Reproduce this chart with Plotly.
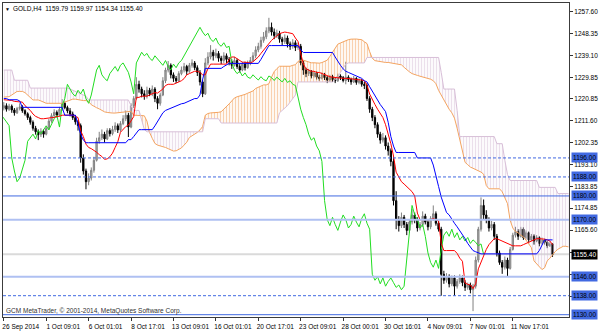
import plotly.graph_objects as go

# ---------------- data (GOLD H4, bar index 0..207) ----------------
opens = [
1217.0,1218.0,1216.5,1217.8,1216.2,1215.0,1216.8,1217.5,1215.9,1214.6,
1213.0,1211.0,1208.5,1207.0,1205.8,1207.2,1206.0,1208.4,1211.5,1213.8,
1215.2,1214.0,1216.5,1219.0,1217.2,1215.8,1214.5,1213.0,1211.2,1209.6,
1196.0,1190.5,1186.0,1187.5,1190.8,1195.0,1203.0,1204.5,1206.0,1204.0,
1207.5,1206.2,1208.0,1209.5,1207.8,1210.5,1212.5,1214.0,1209.0,1218.0,
1221.0,1227.0,1225.0,1223.0,1222.0,1224.5,1223.0,1225.0,1221.0,1219.0,
1222.5,1228.5,1233.0,1235.0,1231.0,1229.5,1228.5,1231.5,1233.0,1234.5,
1232.5,1235.0,1236.0,1234.0,1232.0,1228.0,1223.0,1236.0,1238.5,1240.5,
1239.0,1240.0,1238.0,1237.0,1239.0,1237.5,1236.5,1235.0,1237.0,1234.5,
1233.0,1235.5,1234.0,1236.0,1237.0,1239.0,1241.5,1243.0,1245.5,1247.0,
1249.5,1251.0,1249.0,1247.5,1248.5,1246.0,1245.0,1246.5,1244.0,1243.0,
1244.5,1242.5,1243.0,1236.0,1233.0,1231.5,1232.5,1230.5,1231.8,1230.0,
1229.5,1231.0,1229.8,1228.8,1230.2,1229.0,1228.5,1230.5,1229.8,1228.6,
1230.0,1229.0,1228.0,1229.5,1227.8,1228.5,1227.0,1226.5,1221.0,1216.5,
1213.0,1210.0,1206.0,1203.5,1204.5,1201.0,1199.0,1194.5,1178.0,1170.0,
1167.5,1171.0,1168.0,1165.5,1169.0,1172.0,1170.0,1166.5,1168.0,1171.5,
1169.0,1167.0,1170.5,1172.5,1168.5,1166.0,1147.0,1144.5,1146.0,1143.0,
1145.5,1142.0,1144.0,1145.5,1143.5,1141.5,1142.5,1140.5,1142.0,1153.0,
1166.0,1176.0,1172.0,1170.0,1166.5,1168.0,1163.0,1156.0,1152.0,1150.0,
1153.0,1149.5,1157.5,1163.5,1165.0,1163.0,1166.0,1162.5,1164.5,1161.5,
1163.0,1161.0,1162.5,1160.0,1161.5,1160.5,1159.0,1159.79]

highs = [
1219.5,1219.0,1218.8,1218.5,1217.0,1217.5,1219.0,1218.2,1216.5,1215.2,
1213.8,1211.8,1209.5,1208.0,1208.5,1208.0,1209.5,1212.5,1214.8,1216.5,
1216.0,1217.5,1220.8,1219.8,1218.0,1217.0,1215.5,1214.0,1212.0,1210.5,
1197.5,1191.5,1189.5,1192.0,1196.5,1204.5,1207.0,1208.0,1207.0,1208.5,
1208.5,1209.5,1211.0,1210.5,1211.5,1214.0,1216.0,1215.0,1219.0,1222.0,
1230.0,1228.5,1226.0,1224.5,1226.0,1225.5,1226.5,1225.8,1222.0,1223.5,
1230.0,1234.0,1236.8,1235.8,1232.0,1230.5,1232.5,1234.5,1236.0,1235.2,
1236.0,1237.5,1236.8,1235.0,1233.0,1229.0,1238.0,1240.5,1243.5,1241.5,
1242.0,1241.0,1239.0,1240.5,1240.0,1238.5,1237.5,1238.5,1237.8,1235.5,
1236.5,1236.5,1237.0,1238.5,1240.5,1243.0,1244.5,1247.0,1249.0,1251.0,
1255.0,1253.0,1250.5,1250.0,1249.5,1247.0,1248.0,1247.5,1245.0,1246.0,
1245.5,1244.5,1244.0,1237.0,1234.0,1233.5,1233.0,1232.5,1232.5,1231.0,
1232.0,1231.8,1230.5,1231.0,1231.0,1230.0,1231.5,1231.2,1230.5,1236.5,
1230.8,1229.8,1230.5,1230.0,1229.5,1229.2,1228.0,1227.5,1222.0,1217.5,
1214.0,1211.0,1207.0,1206.5,1205.5,1202.5,1200.0,1196.5,1182.0,1171.5,
1173.0,1172.0,1169.0,1170.0,1174.5,1173.0,1171.0,1169.0,1173.5,1172.5,
1170.0,1171.5,1176.0,1173.5,1169.5,1167.0,1148.5,1147.5,1147.0,1146.5,
1146.5,1145.0,1147.0,1146.5,1144.5,1143.5,1143.5,1143.0,1154.5,1167.0,
1179.4,1178.5,1174.0,1171.0,1169.5,1169.0,1164.0,1157.0,1153.0,1154.5,
1154.0,1158.5,1164.5,1167.0,1166.0,1167.0,1166.8,1165.5,1165.0,1164.0,
1163.8,1163.5,1163.0,1162.5,1162.0,1161.0,1160.5,1159.97]

lows = [
1216.0,1215.5,1215.8,1215.0,1213.8,1214.5,1216.0,1215.0,1213.8,1212.0,
1210.0,1207.5,1205.8,1203.5,1204.8,1204.5,1205.5,1207.8,1210.8,1213.0,
1213.0,1213.5,1215.8,1216.5,1214.8,1213.5,1212.0,1210.0,1207.5,1194.0,
1189.0,1182.8,1184.5,1186.5,1189.8,1194.5,1202.0,1203.5,1202.5,1203.5,
1205.0,1205.5,1207.0,1206.5,1207.0,1209.8,1211.5,1204.8,1208.5,1217.0,
1220.5,1223.5,1221.5,1220.5,1221.0,1222.0,1222.0,1219.5,1216.5,1218.0,
1222.0,1227.5,1232.0,1229.5,1228.0,1227.5,1228.0,1230.8,1232.0,1231.0,
1231.8,1234.0,1233.0,1230.5,1226.5,1221.6,1222.5,1235.0,1237.5,1237.0,
1238.0,1236.5,1235.5,1236.0,1236.0,1235.0,1233.5,1234.5,1233.5,1232.0,
1232.5,1232.8,1233.5,1235.0,1236.5,1238.0,1240.5,1242.0,1244.5,1246.0,
1248.5,1247.5,1246.0,1246.5,1244.5,1243.5,1244.0,1242.5,1241.5,1242.0,
1241.0,1241.5,1235.0,1231.0,1230.0,1230.5,1229.5,1229.8,1229.0,1228.5,
1229.0,1228.8,1227.5,1228.0,1228.0,1227.5,1228.0,1228.8,1227.8,1227.0,
1228.0,1226.8,1227.5,1226.8,1227.0,1226.0,1225.0,1220.0,1215.0,1211.5,
1208.5,1204.5,1202.0,1202.5,1199.5,1197.0,1192.5,1176.0,1166.0,1165.0,
1166.5,1166.5,1163.5,1164.5,1168.0,1168.5,1165.0,1165.5,1167.0,1168.0,
1165.5,1166.0,1169.5,1167.5,1165.0,1138.0,1143.0,1143.5,1141.5,1142.0,
1138.0,1141.0,1143.0,1142.0,1140.0,1140.5,1139.0,1131.5,1141.0,1152.0,
1165.0,1170.0,1168.5,1165.0,1165.5,1161.5,1154.5,1151.0,1147.2,1149.0,
1146.0,1149.0,1157.0,1162.5,1161.5,1162.5,1161.5,1161.8,1160.5,1161.0,
1159.5,1160.5,1158.8,1159.5,1159.5,1158.0,1158.5,1154.34]

closes = [
1218.0,1216.5,1217.8,1216.2,1215.0,1216.8,1217.5,1215.9,1214.6,1213.0,
1211.0,1208.5,1207.0,1205.8,1207.2,1206.0,1208.4,1211.5,1213.8,1215.2,
1214.0,1216.5,1219.0,1217.2,1215.8,1214.5,1213.0,1211.2,1209.6,1196.0,
1190.5,1186.0,1187.5,1190.8,1195.0,1203.0,1204.5,1206.0,1204.0,1207.5,
1206.2,1208.0,1209.5,1207.8,1210.5,1212.5,1214.0,1209.0,1218.0,1221.0,
1227.0,1225.0,1223.0,1222.0,1224.5,1223.0,1225.0,1221.0,1219.0,1222.5,
1228.5,1233.0,1235.0,1231.0,1229.5,1228.5,1231.5,1233.0,1234.5,1232.5,
1235.0,1236.0,1234.0,1232.0,1228.0,1223.0,1236.0,1238.5,1240.5,1239.0,
1240.0,1238.0,1237.0,1239.0,1237.5,1236.5,1235.0,1237.0,1234.5,1233.0,
1235.5,1234.0,1236.0,1237.0,1239.0,1241.5,1243.0,1245.5,1247.0,1249.5,
1251.0,1249.0,1247.5,1248.5,1246.0,1245.0,1246.5,1244.0,1243.0,1244.5,
1242.5,1243.0,1236.0,1233.0,1231.5,1232.5,1230.5,1231.8,1230.0,1229.5,
1231.0,1229.8,1228.8,1230.2,1229.0,1228.5,1230.5,1229.8,1228.6,1230.0,
1229.0,1228.0,1229.5,1227.8,1228.5,1227.0,1226.5,1221.0,1216.5,1213.0,
1210.0,1206.0,1203.5,1204.5,1201.0,1199.0,1194.5,1178.0,1170.0,1167.5,
1171.0,1168.0,1165.5,1169.0,1172.0,1170.0,1166.5,1168.0,1171.5,1169.0,
1167.0,1170.5,1172.5,1168.5,1166.0,1147.0,1144.5,1146.0,1143.0,1145.5,
1142.0,1144.0,1145.5,1143.5,1141.5,1142.5,1140.5,1142.0,1153.0,1166.0,
1176.0,1172.0,1170.0,1166.5,1168.0,1163.0,1156.0,1152.0,1150.0,1153.0,
1149.5,1157.5,1163.5,1165.0,1163.0,1166.0,1162.5,1164.5,1161.5,1163.0,
1161.0,1162.5,1160.0,1161.5,1160.5,1159.0,1159.8,1155.4]

tenkan = [
1220.5,1220.5,1220.5,1220.2,1219.8,1219.8,1219.5,1219.5,1218.0,1217.0,
1216.0,1214.5,1213.5,1213.0,1212.5,1212.5,1212.5,1212.8,1213.0,1213.0,
1213.5,1213.5,1214.0,1214.0,1214.0,1214.0,1214.0,1213.5,1213.0,1207.4,
1205.0,1201.8,1200.4,1199.9,1199.2,1198.4,1197.4,1196.6,1195.4,1195.6,
1196.5,1198.0,1200.4,1202.8,1206.8,1208.2,1209.2,1209.8,1211.9,1213.4,
1221.5,1221.5,1222.0,1222.0,1222.0,1222.5,1223.0,1223.5,1223.3,1224.0,
1225.0,1226.5,1227.0,1227.0,1227.0,1227.5,1228.0,1228.5,1229.4,1231.0,
1231.5,1232.0,1232.5,1232.5,1232.0,1231.0,1231.0,1233.5,1235.5,1235.5,
1235.5,1235.5,1235.5,1235.5,1235.5,1237.5,1238.5,1238.5,1237.8,1237.0,
1236.3,1236.3,1236.0,1236.0,1236.5,1237.5,1238.5,1240.0,1241.5,1243.0,
1244.5,1245.5,1246.5,1247.5,1248.3,1248.7,1249.0,1248.8,1248.5,1248.3,
1246.5,1245.0,1240.0,1235.5,1233.5,1233.0,1232.5,1232.5,1232.0,1232.0,
1231.5,1231.0,1230.5,1230.2,1230.0,1229.8,1229.6,1229.5,1229.5,1229.5,
1229.5,1229.3,1229.2,1229.0,1229.0,1228.8,1228.5,1226.5,1222.9,1221.0,
1218.5,1216.5,1214.5,1213.0,1210.0,1206.0,1202.0,1196.8,1190.0,1188.0,
1186.0,1185.0,1184.0,1183.0,1181.8,1180.0,1172.8,1170.0,1170.0,1170.0,
1170.0,1170.0,1170.5,1170.0,1169.5,1160.0,1157.0,1157.0,1157.0,1157.0,
1157.0,1155.8,1153.8,1152.5,1143.3,1142.8,1142.5,1141.0,1143.0,1149.3,
1152.0,1155.0,1157.5,1159.5,1161.0,1162.0,1162.0,1161.5,1161.0,1160.5,
1160.0,1159.5,1159.0,1159.0,1159.0,1159.0,1159.5,1160.0,1160.5,1161.0,
1161.5,1162.0,1162.0,1162.0,1161.8,1161.5,1161.0,1159.5]

kijun = [
1221.0,1221.0,1220.5,1220.5,1220.5,1220.5,1220.0,1217.3,1217.3,1217.3,
1217.3,1217.3,1217.3,1217.3,1217.3,1217.3,1217.3,1217.3,1217.3,1217.3,
1217.3,1217.3,1217.3,1214.0,1214.0,1214.0,1214.0,1214.0,1210.0,1206.0,
1203.5,1202.4,1202.4,1202.4,1202.4,1202.4,1202.4,1202.4,1202.4,1202.4,
1202.4,1202.4,1202.4,1202.4,1202.4,1202.4,1202.4,1203.7,1203.7,1205.0,
1206.5,1207.9,1207.9,1207.9,1207.9,1207.9,1207.9,1209.5,1211.5,1213.5,
1215.0,1216.0,1216.5,1217.0,1217.5,1218.0,1218.5,1218.8,1219.0,1219.5,
1220.0,1220.5,1221.0,1221.0,1222.5,1229.0,1233.7,1233.7,1233.7,1233.7,
1233.7,1233.7,1233.7,1234.5,1235.0,1235.8,1235.8,1235.8,1235.8,1235.8,
1235.8,1235.8,1235.8,1235.8,1235.8,1235.8,1235.8,1237.5,1239.5,1241.5,
1243.3,1243.3,1243.3,1243.3,1243.3,1243.3,1243.3,1243.3,1243.3,1243.3,
1243.3,1243.3,1241.5,1240.4,1240.4,1240.4,1240.4,1240.4,1240.4,1240.4,
1240.4,1240.4,1240.4,1240.4,1240.4,1238.5,1236.5,1235.0,1233.5,1232.5,
1232.0,1231.5,1231.0,1230.5,1230.0,1229.5,1228.5,1228.0,1226.0,1224.0,
1222.0,1220.0,1218.5,1217.0,1215.5,1211.0,1205.0,1201.0,1198.3,1198.3,
1198.3,1198.3,1198.3,1198.3,1198.3,1198.3,1196.0,1196.0,1196.0,1196.0,
1196.0,1196.0,1193.0,1189.0,1184.0,1179.5,1176.0,1173.0,1172.0,1170.0,
1168.5,1167.0,1165.5,1164.0,1162.0,1160.0,1158.5,1157.0,1156.5,1156.0,
1155.6,1155.6,1155.6,1155.6,1155.6,1155.6,1155.6,1155.6,1155.6,1155.6,
1155.6,1155.6,1155.6,1155.6,1155.6,1155.6,1155.6,1155.6,1155.6,1155.6,
1155.6,1155.6,1157.0,1159.5,1161.5,1161.5,1161.5,1161.5]

# Senkou Span A for the first 26 visible bars (computed from bars before the window)
senkou_a_head = [
1221.6,1221.6,1221.8,1222.5,1223.2,1224.0,1224.0,1224.0,1223.5,1222.5,
1221.5,1220.4,1220.4,1220.4,1220.0,1219.5,1219.0,1219.0,1219.0,1219.0,
1219.0,1219.0,1219.0,1219.5,1220.0,1220.5]

# Senkou Span B, visible bars 0..213
senkou_b = [
1233.0,1233.0,1233.0,1233.0,1228.7,1228.7,1228.7,1228.7,1228.7,1228.7,
1225.4,1225.4,1225.4,1225.4,1225.4,1225.4,1225.4,1225.4,1225.4,1225.4,
1225.4,1225.4,1225.4,1225.4,1225.4,1225.0,1224.5,1224.0,1223.5,1223.0,
1222.5,1222.0,1220.4,1220.4,1220.4,1220.4,1220.4,1220.4,1220.4,1220.4,
1220.4,1220.4,1220.4,1220.4,1220.4,1220.4,1220.4,1220.4,1218.0,1216.0,
1216.0,1216.0,1212.0,1208.0,1207.0,1207.0,1207.0,1207.0,1207.0,1207.0,
1207.0,1207.0,1207.0,1207.0,1207.0,1207.0,1207.0,1207.0,1207.0,1207.0,
1207.0,1207.0,1207.0,1207.0,1207.0,1207.0,1212.5,1212.5,1212.5,1212.5,
1212.5,1212.5,1210.7,1210.7,1210.7,1210.7,1210.7,1210.7,1210.7,1210.7,
1210.7,1210.7,1210.7,1210.7,1210.7,1210.7,1210.7,1210.7,1210.7,1210.7,
1210.7,1210.7,1210.7,1210.7,1215.0,1216.0,1217.0,1218.0,1219.5,1221.0,
1222.5,1228.0,1228.0,1228.0,1228.0,1228.0,1228.0,1228.0,1228.0,1228.0,
1228.0,1228.0,1228.0,1228.0,1228.0,1229.0,1230.0,1232.0,1234.0,1235.5,
1236.0,1236.0,1236.0,1236.0,1236.0,1236.0,1236.0,1238.3,1238.3,1238.3,
1238.3,1238.3,1238.3,1238.3,1238.3,1238.3,1238.3,1238.3,1238.3,1238.3,
1238.3,1238.3,1238.3,1238.3,1238.3,1238.3,1238.3,1238.3,1238.3,1238.3,
1238.3,1238.3,1238.3,1238.3,1238.3,1232.0,1225.0,1225.0,1225.0,1225.0,
1225.0,1216.0,1205.0,1205.0,1205.0,1205.0,1205.0,1205.0,1205.0,1205.0,
1205.0,1205.0,1205.0,1205.0,1205.0,1205.0,1202.0,1202.0,1202.0,1195.0,
1189.0,1186.5,1186.5,1186.5,1186.5,1186.5,1186.5,1186.5,1186.5,1186.5,
1186.5,1186.5,1183.6,1183.6,1183.6,1183.6,1183.6,1183.6,1183.6,1181.0,
1181.0,1181.0,1181.0,1181.0]

x_tick_bars = [0, 16, 32, 48, 64, 80, 96, 112, 128, 144, 160, 176, 192]
x_tick_labels = ["26 Sep 2014", "1 Oct 09:01", "6 Oct 01:01", "8 Oct 17:01",
                 "13 Oct 09:01", "16 Oct 01:01", "20 Oct 17:01", "23 Oct 09:01",
                 "28 Oct 00:01", "30 Oct 16:01", "4 Nov 09:01", "7 Nov 01:01",
                 "11 Nov 17:01"]
y_ticks = [1257.60, 1248.35, 1239.10, 1229.85, 1220.85, 1211.60, 1202.35,
           1193.10, 1183.85, 1174.85, 1165.60, 1156.35, 1147.10, 1137.85]
# scale labels that sit underneath a price-level tag in the reference
y_ticks_covered = [1156.35, 1147.10, 1137.85]

levels_dashed = [1196.00, 1188.00, 1138.00]
levels_solid = [1180.00, 1130.00]
levels_light = [1170.00, 1146.00]
bid_price = 1155.40

assert len(opens) == len(highs) == len(lows) == len(closes) == 208
assert len(tenkan) == len(kijun) == 208
assert len(senkou_a_head) == 26 and len(senkou_b) == 214

# ---------------- derived Ichimoku spans ----------------
SHIFT = 26
bars = list(range(len(closes)))
cloud_x = list(range(len(senkou_b)))
senkou_a = senkou_a_head + [(t + k) / 2 for t, k in zip(tenkan, kijun)]
senkou_a = senkou_a[:len(senkou_b)]
upper = [max(a, b) for a, b in zip(senkou_a, senkou_b)]
chikou_x = [i - SHIFT for i in bars]

FONT = "Liberation Sans, Arial, sans-serif"
SANDY = "#F4A460"
THISTLE = "#D8BFD8"

fig = go.Figure()

# cloud: sandy hatch where A > B, thistle hatch where B > A
fig.add_trace(go.Scatter(x=cloud_x, y=senkou_b, mode="lines", line=dict(width=0),
                         hoverinfo="skip", showlegend=False))
fig.add_trace(go.Scatter(x=cloud_x, y=upper, mode="lines", line=dict(width=0),
                         fill="tonexty", fillcolor="rgba(0,0,0,0)",
                         fillpattern=dict(shape="|", fgcolor=SANDY, bgcolor="rgba(0,0,0,0)",
                                          size=3, solidity=0.45),
                         hoverinfo="skip", showlegend=False))
fig.add_trace(go.Scatter(x=cloud_x, y=senkou_a, mode="lines", line=dict(width=0),
                         hoverinfo="skip", showlegend=False))
fig.add_trace(go.Scatter(x=cloud_x, y=upper, mode="lines", line=dict(width=0),
                         fill="tonexty", fillcolor="rgba(0,0,0,0)",
                         fillpattern=dict(shape="|", fgcolor=THISTLE, bgcolor="rgba(0,0,0,0)",
                                          size=3, solidity=0.45),
                         hoverinfo="skip", showlegend=False))

# candles
fig.add_trace(go.Candlestick(
    x=bars, open=opens, high=highs, low=lows, close=closes,
    increasing=dict(line=dict(color="#808080", width=1), fillcolor="#B4B4B4"),
    decreasing=dict(line=dict(color="#000000", width=1), fillcolor="#000000"),
    whiskerwidth=0, showlegend=False, hoverinfo="skip"))

# span lines
fig.add_trace(go.Scatter(x=cloud_x, y=senkou_a, mode="lines",
                         line=dict(color=SANDY, width=1), showlegend=False, hoverinfo="skip"))
fig.add_trace(go.Scatter(x=cloud_x, y=senkou_b, mode="lines",
                         line=dict(color=THISTLE, width=1), showlegend=False, hoverinfo="skip"))
# chikou, tenkan, kijun
fig.add_trace(go.Scatter(x=chikou_x, y=closes, mode="lines",
                         line=dict(color="#22DD22", width=1), showlegend=False, hoverinfo="skip"))
fig.add_trace(go.Scatter(x=bars, y=tenkan, mode="lines",
                         line=dict(color="#FF0000", width=1), showlegend=False, hoverinfo="skip"))
fig.add_trace(go.Scatter(x=bars, y=kijun, mode="lines",
                         line=dict(color="#0000FF", width=1), showlegend=False, hoverinfo="skip"))

shapes = []
for lv in levels_dashed:
    shapes.append(dict(type="line", xref="paper", x0=0, x1=1, yref="y", y0=lv, y1=lv,
                       line=dict(color="#4169E1", width=1, dash="3px,2px")))
for lv in levels_solid:
    shapes.append(dict(type="line", xref="paper", x0=0, x1=1, yref="y", y0=lv, y1=lv,
                       line=dict(color="#4169E1", width=1)))
for lv in levels_light:
    shapes.append(dict(type="line", xref="paper", x0=0, x1=1, yref="y", y0=lv, y1=lv,
                       line=dict(color="#AFC0F2", width=2)))
shapes.append(dict(type="line", xref="paper", x0=0, x1=1, yref="y", y0=bid_price, y1=bid_price,
                   line=dict(color="#DADADA", width=2), layer="below"))

annotations = []
for lv in levels_dashed + levels_solid + levels_light:
    annotations.append(dict(x=1, xref="paper", y=lv, yref="y", text=f"{lv:.2f}",
                            xanchor="left", yanchor="middle", xshift=2, showarrow=False,
                            bgcolor="#4169E1", borderpad=1,
                            font=dict(family=FONT, size=6.5, color="#000000")))
annotations.append(dict(x=1, xref="paper", y=bid_price, yref="y", text=f"{bid_price:.2f}",
                        xanchor="left", yanchor="middle", xshift=2, showarrow=False,
                        bgcolor="#000000", borderpad=1,
                        font=dict(family=FONT, size=6.5, color="#FFFFFF")))
annotations.append(dict(x=0, xref="paper", y=1, yref="paper", text="▼",
                        xanchor="left", yanchor="top", xshift=0, yshift=-1, showarrow=False,
                        font=dict(family=FONT, size=5, color="#000000")))
annotations.append(dict(x=0, xref="paper", y=1, yref="paper",
                        text=f"GOLD,H4  {opens[-1]:.2f} {highs[-1]:.2f} {lows[-1]:.2f} {closes[-1]:.2f}",
                        xanchor="left", yanchor="top", xshift=8, showarrow=False,
                        font=dict(family=FONT, size=6.5, color="#000000")))
annotations.append(dict(x=0, xref="paper", y=0, yref="paper",
                        text="GCM MetaTrader, © 2001-2014, MetaQuotes Software Corp.",
                        xanchor="left", yanchor="bottom", xshift=1, yshift=0, showarrow=False,
                        font=dict(family=FONT, size=6.5, color="#333333")))

fig.update_layout(
    width=600, height=333,
    margin=dict(l=3, r=29, t=2, b=14, pad=0),
    paper_bgcolor="white", plot_bgcolor="white",
    showlegend=False,
    shapes=shapes, annotations=annotations,
    xaxis=dict(range=[-0.3, 213.2], tickvals=x_tick_bars, ticktext=x_tick_labels,
               ticks="outside", ticklen=3, tickcolor="#333333", showline=True, mirror=True,
               linecolor="#3C3C3C", linewidth=1, showgrid=False, zeroline=False,
               rangeslider=dict(visible=False), ticklabelshift=17,
               tickfont=dict(family=FONT, size=6.5, color="#000000")),
    yaxis=dict(side="right", range=[1129.03, 1261.23], tickvals=y_ticks,
               ticktext=["" if v in y_ticks_covered else f"{v:.2f}" for v in y_ticks],
               ticks="outside", ticklen=3, tickcolor="#333333", showline=True, mirror=True,
               linecolor="#3C3C3C", linewidth=1, showgrid=False, zeroline=False,
               tickfont=dict(family=FONT, size=6.5, color="#000000")),
)

fig.write_html("out.html")
